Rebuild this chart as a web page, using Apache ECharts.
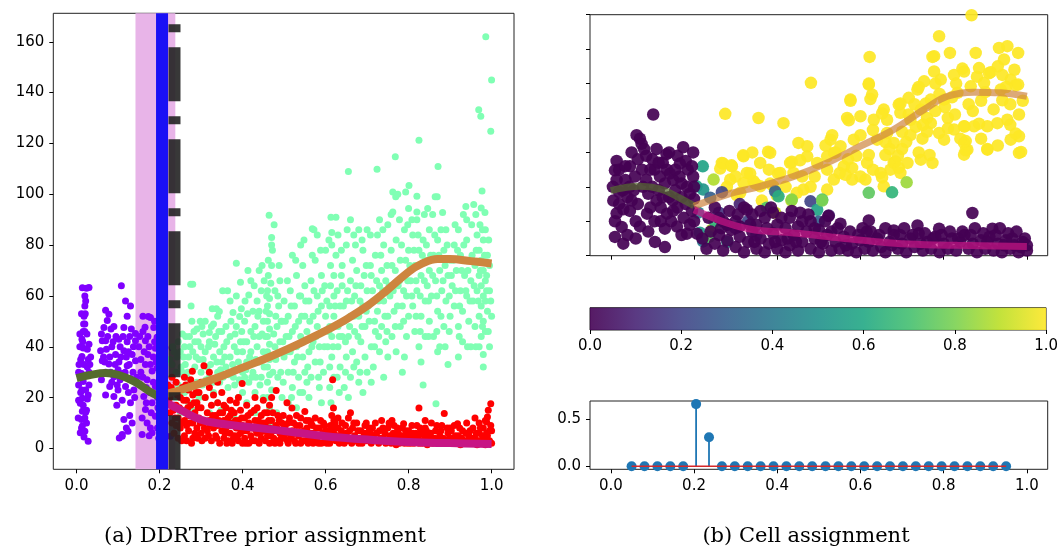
<!DOCTYPE html>
<html>
<head>
<meta charset="utf-8">
<script src="https://cdn.jsdelivr.net/npm/echarts@6/dist/echarts.min.js"></script>
<style>html,body{margin:0;padding:0;background:#fff}#c{width:1061px;height:550px}</style>
</head>
<body>
<div id="c"></div>
<script>
// ---------- DATA ----------
const xTicks = [0, 0.2, 0.4, 0.6, 0.8, 1.0];
const yTicksA = [0, 20, 40, 60, 80, 100, 120, 140, 160];
const yTicksB = [0, 20, 40, 60, 80, 100, 120, 140];
const yTicksStem = [0, 0.5];
const cbTicks = [0, 0.2, 0.4, 0.6, 0.8, 1.0];
const captionA = '(a) DDRTree prior assignment';
const captionB = '(b) Cell assignment';

// panel (a): prior assignment band and branch lines (x positions)
const priorBand = [0.142, 0.238];
const blueLineX = 0.206;
const dashLineX = 0.236;

// panel (a) scatter, flat x,y pairs
const purplePts = [
0.030,63.3, 0.024,63, 0.014,63.2, 0.020,60, 0.020,56, 0.018,52, 0.020,49, 0.020,46, 0.013,43, 0.016,39.5, 0.013,36.2, 0.018,33, 0.012,29.5, 0.016,26.3, 0.013,23, 0.014,19.8, 0.009,17.8, 0.014,14.6, 0.012,11.4, 0.014,8.8, 0.009,6.2, 0.020,6.8, 0.028,2.8, 0.026,39, 0.030,41, 0.034,36, 0.026,32, 0.022,23, 0.026,19.5, 0.022,14.2, 0.018,28.3, 0.005,25, 0.006,33, 0.008,40, 0.004,12, 0.024,10, 0.030,25, 0.030,30, 0.016,46, 0.012,53, 0.005,19,
0.108,64, 0.070,54.4, 0.078,52.8, 0.066,47.6, 0.074,50.3, 0.130,56, 0.122,52, 0.114,47.6, 0.142,45.2, 0.062,42.4, 0.070,42.4, 0.102,43, 0.122,42, 0.142,42.4, 0.058,38.4, 0.072,39, 0.094,37, 0.114,38.4, 0.134,37, 0.062,34.5, 0.078,33.2, 0.102,34, 0.122,32.5, 0.142,34.5, 0.070,30, 0.090,28.2, 0.110,29.5, 0.130,27.5, 0.080,24.4, 0.100,23, 0.118,24.4, 0.138,23, 0.070,21, 0.090,20.4, 0.110,19, 0.130,18, 0.114,11.4, 0.134,10, 0.124,6.8, 0.110,4.8, 0.103,4.1, 0.110,5.5, 0.085,40, 0.095,44, 0.105,40, 0.125,38, 0.080,36, 0.100,31, 0.120,36, 0.136,30, 0.085,26, 0.125,22, 0.105,27, 0.145,28, 0.090,48, 0.118,58, 0.128,44, 0.060,27,
0.166,42.4, 0.186,47.6, 0.178,51.5, 0.173,51.9, 0.165,47.7, 0.172,37, 0.190,39.4, 0.166,33, 0.182,30.5, 0.170,27, 0.190,24.4, 0.162,20.4, 0.182,18, 0.166,15.3, 0.190,12.7, 0.170,10, 0.182,6.2, 0.194,31.7, 0.194,43.8, 0.230,39.6, 0.226,4.8, 0.155,35, 0.160,28, 0.176,22, 0.195,20, 0.158,12, 0.175,40, 0.185,36, 0.200,27, 0.200,15, 0.175,5, 0.195,8, 0.152,44, 0.158,5.5, 0.198,36,
0.005,30, 0.010,22, 0.010,35, 0.015,42, 0.017,49, 0.021,53, 0.025,45, 0.028,35, 0.032,33, 0.016,17, 0.020,12, 0.012,8, 0.018,4.5, 0.024,15, 0.028,21, 0.022,58, 0.008,45,
0.060,45, 0.065,36, 0.075,44, 0.082,30, 0.088,42, 0.093,33, 0.098,25, 0.107,36, 0.112,44, 0.117,30, 0.127,33, 0.132,47, 0.137,40, 0.140,20, 0.128,13, 0.120,8, 0.097,17, 0.083,47, 0.068,34,
0.150,40, 0.155,30, 0.160,46, 0.163,38, 0.168,24, 0.172,44, 0.178,33, 0.180,14, 0.185,26, 0.188,42, 0.192,34, 0.196,16, 0.200,10, 0.198,4, 0.168,18, 0.178,8, 0.188,50, 0.160,52
];
const greenPts = [
0.225,35, 0.230,28, 0.235,38, 0.240,30, 0.245,25, 0.230,33, 0.250,38, 0.245,42, 0.240,20, 0.250,14,
0.255,45, 0.260,40, 0.262,33, 0.265,28, 0.270,36, 0.272,44, 0.275,64.6, 0.280,64.6, 0.278,50, 0.280,38, 0.285,32, 0.285,42, 0.290,26, 0.290,47, 0.295,35, 0.300,40, 0.300,30, 0.260,22, 0.270,18, 0.280,15, 0.295,20, 0.255,30, 0.268,25,
0.232,40, 0.242,36, 0.252,32, 0.258,36, 0.263,44, 0.268,30, 0.273,40, 0.283,46, 0.288,36, 0.293,42, 0.298,50, 0.276,56,
0.305,45, 0.310,50, 0.310,38, 0.315,32, 0.320,42, 0.320,28, 0.325,48, 0.330,36, 0.330,22, 0.335,44, 0.340,30, 0.340,52, 0.345,38, 0.345,26, 0.350,46, 0.350,34, 0.310,20, 0.320,14, 0.340,18, 0.352,62, 0.337,55, 0.348,15, 0.303,25, 0.344,53.9, 0.330,49, 0.320,45.6,
0.305,35, 0.312,27, 0.318,40, 0.323,33, 0.328,26, 0.333,41, 0.338,34, 0.343,46, 0.347,31, 0.353,28, 0.357,36, 0.362,42, 0.367,29, 0.372,50, 0.376,33, 0.382,45, 0.387,38, 0.392,27, 0.397,55, 0.302,48, 0.327,55, 0.364,62, 0.381,25, 0.360,10, 0.330,12,
0.355,40, 0.360,48, 0.360,32, 0.365,24, 0.370,44, 0.370,36, 0.377,53.5, 0.378,28, 0.380,40, 0.385,72.9, 0.385,48, 0.390,34, 0.390,20, 0.393,51.9, 0.395,65.4, 0.395,42, 0.400,30, 0.400,38, 0.360,16, 0.380,12, 0.400,22, 0.370,58, 0.385,60, 0.398,46,
0.405,50, 0.410,34, 0.410,42, 0.415,60.4, 0.415,26, 0.420,46, 0.420,38, 0.425,54, 0.425,30, 0.430,48, 0.430,22, 0.435,40, 0.435,58, 0.440,34, 0.440,44, 0.445,62, 0.445,28, 0.450,50, 0.450,38, 0.410,18, 0.430,14, 0.450,20, 0.440,70, 0.420,66, 0.405,28,
0.403,42, 0.408,31, 0.412,53, 0.417,36, 0.422,28, 0.427,44, 0.432,35, 0.437,52, 0.442,25, 0.447,45, 0.452,32, 0.457,54, 0.447,72, 0.428,64, 0.413,70, 0.478,40, 0.483,48, 0.487,56, 0.492,30, 0.497,42, 0.478,62, 0.488,72, 0.498,26, 0.452,66, 0.406,58, 0.432,28, 0.440,54, 0.473,30, 0.493,50, 0.467,10,
0.455,44, 0.460,20, 0.460,26, 0.460,32, 0.460,38, 0.460,44, 0.460,50, 0.460,56, 0.460,62, 0.462,68, 0.462,74, 0.464,91.7, 0.465,16, 0.465,29, 0.465,35, 0.465,41, 0.465,47, 0.465,53, 0.465,59, 0.468,65, 0.470,83, 0.470,80, 0.472,78, 0.470,72, 0.470,23, 0.475,45, 0.480,35, 0.480,52, 0.485,28, 0.485,60, 0.490,42, 0.490,66, 0.495,20, 0.495,50, 0.500,36, 0.500,58, 0.482,14, 0.490,12, 0.476,88, 0.458,60,
0.505,44, 0.510,30, 0.510,52, 0.515,38, 0.515,62, 0.520,24, 0.520,46, 0.525,34, 0.525,56, 0.530,40, 0.530,68, 0.535,28, 0.535,50, 0.540,44, 0.540,60, 0.545,36, 0.545,72, 0.550,52, 0.550,30, 0.550,64, 0.510,18, 0.530,16, 0.545,22, 0.520,76, 0.540,80,
0.503,50, 0.507,38, 0.512,44, 0.517,56, 0.522,30, 0.527,48, 0.532,36, 0.537,60, 0.542,52, 0.547,42, 0.552,58, 0.557,32, 0.562,50, 0.567,40, 0.572,62, 0.577,44, 0.582,54, 0.587,34, 0.592,62, 0.597,40, 0.508,66, 0.528,74, 0.548,82, 0.568,76, 0.588,78, 0.598,64, 0.518,20, 0.555,26, 0.583,28, 0.538,22,
0.555,46, 0.560,38, 0.560,58, 0.565,28, 0.565,66, 0.568,86.4, 0.570,42, 0.570,52, 0.575,34, 0.575,74, 0.580,48, 0.580,60, 0.580,84, 0.585,24, 0.585,40, 0.590,56, 0.590,68, 0.595,30, 0.595,46, 0.600,52, 0.600,78, 0.560,20, 0.590,18, 0.572,86,
0.605,40, 0.610,24, 0.610,32, 0.610,48, 0.610,56, 0.612,64, 0.612,72, 0.613,91, 0.615,80, 0.615,85, 0.615,36, 0.615,44, 0.620,28, 0.620,52, 0.620,60, 0.620,68, 0.625,91, 0.625,76, 0.630,40, 0.630,48, 0.635,56, 0.635,32, 0.640,44, 0.640,64, 0.640,72, 0.645,24, 0.645,50, 0.650,36, 0.650,58, 0.650,80, 0.652,86, 0.655,109, 0.655,20, 0.655,44, 0.660,28, 0.660,52, 0.660,66, 0.660,90, 0.665,38, 0.665,74, 0.630,84,
0.603,58, 0.608,46, 0.618,40, 0.623,56, 0.628,62, 0.633,44, 0.638,68, 0.643,56, 0.648,42, 0.653,62, 0.658,48, 0.663,58, 0.668,52, 0.673,64, 0.678,44, 0.683,58, 0.688,48, 0.693,68, 0.698,54, 0.608,82, 0.638,78, 0.668,84, 0.688,82, 0.698,72, 0.628,28, 0.668,32, 0.648,30, 0.613,18, 0.633,22, 0.683,30,
0.670,46, 0.670,60, 0.675,34, 0.675,70, 0.680,52, 0.680,26, 0.685,42, 0.685,64, 0.690,56, 0.690,78, 0.695,36, 0.695,48, 0.700,62, 0.700,30, 0.700,86, 0.680,86, 0.690,22, 0.672,80,
0.705,50, 0.710,40, 0.710,68, 0.715,58, 0.715,32, 0.724,109.8, 0.720,46, 0.720,76, 0.725,54, 0.725,84, 0.730,38, 0.730,64, 0.735,48, 0.735,70, 0.740,28, 0.740,58, 0.740,80, 0.745,42, 0.745,66, 0.750,52, 0.750,88, 0.750,36, 0.710,26, 0.730,90,
0.703,56, 0.708,72, 0.713,62, 0.718,50, 0.723,66, 0.728,58, 0.733,76, 0.738,62, 0.743,52, 0.748,72, 0.753,64, 0.758,78, 0.763,62, 0.768,70, 0.773,56, 0.778,66, 0.783,80, 0.788,62, 0.793,74, 0.798,66, 0.708,84, 0.728,44, 0.748,46, 0.768,48, 0.788,50, 0.778,90, 0.758,92, 0.738,86, 0.718,40, 0.798,88,
0.755,60, 0.760,44, 0.760,72, 0.762,100.9, 0.768,114.8, 0.765,54, 0.770,82, 0.770,38, 0.775,64, 0.774,100, 0.780,48, 0.769,99, 0.780,74, 0.785,56, 0.785,30, 0.790,68, 0.790,86, 0.795,44, 0.795,60, 0.800,78, 0.801,103.5, 0.800,52, 0.800,94.4, 0.790,36, 0.793,100.9, 0.762,93,
0.805,66, 0.810,56, 0.810,84, 0.815,46, 0.815,72, 0.825,121.3, 0.820,99.2, 0.820,62, 0.820,90, 0.825,40, 0.825,78, 0.830,52, 0.830,68, 0.835,82, 0.835,25, 0.840,58, 0.840,44, 0.840,74, 0.846,94.4, 0.845,64, 0.850,50, 0.850,86, 0.850,70, 0.830,34, 0.820,93,
0.803,72, 0.808,60, 0.813,78, 0.818,66, 0.823,84, 0.828,60, 0.833,76, 0.838,66, 0.843,80, 0.848,58, 0.853,76, 0.858,68, 0.863,84, 0.868,60, 0.873,76, 0.878,86, 0.883,66, 0.888,72, 0.893,80, 0.898,60, 0.808,90, 0.838,92, 0.858,92, 0.878,52, 0.898,46, 0.818,52, 0.848,44, 0.868,46, 0.888,40, 0.828,46,
0.855,60, 0.860,76, 0.860,44, 0.864,99, 0.869,99, 0.865,66, 0.871,110.9, 0.870,54, 0.870,82, 0.875,40, 0.875,70, 0.882,92.8, 0.880,62, 0.885,48, 0.885,78, 0.890,58, 0.890,86, 0.895,68, 0.895,33, 0.900,74, 0.900,52, 0.866,17.6, 0.870,38,
0.905,64, 0.910,80, 0.910,56, 0.915,70, 0.920,48, 0.920,86, 0.925,62, 0.925,76, 0.930,54, 0.930,42, 0.935,68, 0.938,95.2, 0.940,60, 0.940,82, 0.945,50, 0.945,74, 0.950,66, 0.957,96, 0.950,40, 0.920,36, 0.940,90,
0.903,68, 0.908,74, 0.913,62, 0.918,78, 0.923,56, 0.928,70, 0.933,80, 0.938,62, 0.943,70, 0.948,58, 0.953,76, 0.958,64, 0.963,78, 0.968,58, 0.973,70, 0.978,48, 0.983,76, 0.988,62, 0.993,82, 0.998,58, 0.912,88, 0.932,92, 0.952,88, 0.962,92, 0.922,44, 0.942,40, 0.962,40, 0.992,46, 0.978,86, 0.988,68,
0.955,58, 0.960,72, 0.960,48, 0.965,84, 0.965,62, 0.969,133.3, 0.974,130.7, 0.970,40, 0.970,52, 0.970,68, 0.970,78, 0.972,88, 0.975,44, 0.975,56, 0.975,64, 0.975,74, 0.977,101.3, 0.975,94.6, 0.980,37, 0.980,50, 0.980,60, 0.980,70, 0.980,82, 0.986,162, 0.985,86, 0.985,46, 0.985,58, 0.985,66, 0.998,124.8, 0.990,76, 0.984,92.8, 0.990,54, 0.995,40, 0.995,62, 0.995,72, 1.000,145, 1.000,52, 0.980,32
];
const redPts = [
0.220,25, 0.225,20, 0.225,14, 0.230,28, 0.230,10, 0.235,22, 0.235,6, 0.240,17, 0.240,26, 0.245,12, 0.245,4, 0.250,20, 0.250,8, 0.255,24, 0.255,15, 0.260,28, 0.260,11, 0.260,5, 0.265,19, 0.265,3, 0.270,23, 0.270,13, 0.270,7, 0.275,27, 0.275,17, 0.280,10, 0.280,21, 0.280,4, 0.285,14, 0.285,25, 0.290,8, 0.290,18, 0.279,30.4, 0.295,12, 0.295,22, 0.300,6, 0.300,16, 0.307,32.5, 0.300,26, 0.240,9, 0.265,9, 0.285,6,
0.222,18, 0.228,24, 0.233,15, 0.238,12, 0.243,21, 0.248,16, 0.253,10, 0.258,19, 0.263,25, 0.268,16, 0.272,10, 0.278,13, 0.283,18, 0.288,22, 0.293,16, 0.298,10, 0.253,3, 0.277,2, 0.292,4,
0.305,10, 0.310,4, 0.310,20, 0.315,14, 0.315,7, 0.320,24, 0.320,11, 0.325,3, 0.325,17, 0.330,8, 0.330,21, 0.335,13, 0.335,5, 0.340,18, 0.340,9, 0.345,2, 0.345,14, 0.350,7, 0.350,22, 0.355,11, 0.355,4, 0.360,16, 0.360,8, 0.365,12, 0.365,3, 0.370,19, 0.370,6, 0.375,10, 0.375,2, 0.380,14, 0.380,5, 0.385,8, 0.385,18, 0.390,3, 0.390,11, 0.395,6, 0.395,15, 0.399,25.6, 0.400,9, 0.400,2, 0.370,13, 0.340,26, 0.320,30, 0.355,17, 0.390,20,
0.302,3, 0.308,8, 0.318,5, 0.322,9, 0.328,13, 0.338,4, 0.343,11, 0.352,14, 0.358,6, 0.362,2, 0.368,9, 0.373,15, 0.378,4, 0.383,11, 0.388,5, 0.393,8, 0.398,12,
0.405,12, 0.405,4, 0.410,7, 0.410,17, 0.415,2, 0.415,10, 0.420,5, 0.420,14, 0.425,8, 0.430,3, 0.430,11, 0.435,6, 0.435,16, 0.440,2, 0.440,9, 0.445,4, 0.445,13, 0.450,7, 0.450,19, 0.455,3, 0.455,10, 0.460,5, 0.460,14, 0.465,8, 0.465,2, 0.470,11, 0.470,20, 0.475,4, 0.475,7, 0.481,22.8, 0.480,9, 0.485,3, 0.485,13, 0.490,6, 0.490,2, 0.495,10, 0.500,4, 0.500,8, 0.465,17, 0.430,20,
0.403,7, 0.408,2, 0.413,13, 0.418,8, 0.423,3, 0.428,15, 0.433,7, 0.438,11, 0.443,6, 0.448,10, 0.453,14, 0.458,7, 0.463,11, 0.468,5, 0.473,14, 0.478,2, 0.483,8, 0.488,11, 0.493,4, 0.498,13,
0.507,18, 0.505,6, 0.510,2, 0.510,10, 0.515,4, 0.519,15.9, 0.520,7, 0.525,3, 0.530,9, 0.535,5, 0.540,2, 0.540,12, 0.545,6, 0.550,14.5, 0.550,3, 0.555,8, 0.560,4, 0.565,10, 0.570,2, 0.570,6, 0.575,12, 0.580,4, 0.585,8, 0.590,2, 0.590,5, 0.595,10, 0.600,3, 0.600,7, 0.530,13, 0.560,11,
0.503,9, 0.508,3, 0.513,12, 0.518,5, 0.523,10, 0.528,2, 0.533,6, 0.538,9, 0.543,3, 0.548,7, 0.553,11, 0.558,2, 0.563,6, 0.568,9, 0.573,4, 0.578,8, 0.583,2, 0.588,11, 0.593,6, 0.598,9,
0.605,5, 0.610,2, 0.612,9, 0.615,13, 0.617,27, 0.619,15.9, 0.620,6, 0.620,11, 0.625,3, 0.630,8, 0.635,4, 0.640,10, 0.645,2, 0.650,6, 0.655,12, 0.660,3, 0.665,8, 0.670,5, 0.675,10, 0.680,2, 0.685,7, 0.690,4, 0.695,9, 0.700,3, 0.700,6, 0.660,14, 0.630,12,
0.603,2, 0.608,7, 0.614,4, 0.618,8, 0.623,10, 0.628,5, 0.633,2, 0.638,7, 0.643,5, 0.648,9, 0.653,3, 0.658,7, 0.663,2, 0.668,10, 0.673,3, 0.678,7, 0.683,4, 0.688,2, 0.693,6, 0.698,10,
0.705,8, 0.710,2, 0.715,5, 0.720,10, 0.725,3, 0.730,7, 0.735,11, 0.740,4, 0.745,2, 0.750,8, 0.755,5, 0.760,3, 0.765,9, 0.770,1.5, 0.775,6, 0.780,4, 0.785,8, 0.788,9.7, 0.790,2, 0.795,5, 0.800,3, 0.800,7, 0.760,11,
0.703,4, 0.708,6, 0.713,8, 0.718,3, 0.723,6, 0.728,2, 0.733,4, 0.738,8, 0.743,6, 0.748,3, 0.753,10, 0.758,2, 0.763,6, 0.768,4, 0.773,8, 0.778,2, 0.783,5, 0.788,3, 0.793,7, 0.798,2,
0.805,2, 0.810,6, 0.815,4, 0.820,9, 0.825,15.9, 0.825,2, 0.830,6, 0.835,3, 0.840,8, 0.845,1.5, 0.850,5, 0.855,10, 0.860,3, 0.865,7, 0.870,2, 0.875,5, 0.880,9, 0.886,13.8, 0.890,3, 0.895,6, 0.900,2, 0.900,8, 0.840,11,
0.803,5, 0.808,9, 0.813,2, 0.818,6, 0.823,4, 0.828,8, 0.833,2, 0.838,5, 0.843,7, 0.848,3, 0.853,6, 0.858,2, 0.863,4, 0.868,9, 0.873,3, 0.878,7, 0.883,4, 0.888,2, 0.893,8, 0.898,4,
0.905,4, 0.910,9, 0.915,2, 0.918,9.7, 0.920,5, 0.925,1.5, 0.930,7, 0.935,3, 0.940,10, 0.945,5, 0.950,2, 0.955,8, 0.960,4, 0.965,1.5, 0.970,10, 0.970,6, 0.975,3, 0.980,8, 0.985,1.5, 0.988,10.4, 0.990,12.4, 0.990,5, 0.995,3, 0.998,17.6, 1.000,7, 1.000,2, 0.960,12,
0.903,7, 0.908,2, 0.913,5, 0.918,3, 0.923,8, 0.928,4, 0.933,2, 0.938,6, 0.943,3, 0.948,7, 0.953,4, 0.958,2, 0.963,6, 0.968,3, 0.973,8, 0.978,5, 0.983,3, 0.988,6, 0.993,2, 0.998,9, 0.992,15, 0.985,11, 0.995,7
];
// panel (a) curves
const oliveA = [[0,27.7],[0.03,28.8],[0.07,29.7],[0.1,29],[0.14,26.3],[0.18,22],[0.206,20]];
const orangeA = [[0.206,21],[0.25,23],[0.3,25.6],[0.35,28.5],[0.4,31.8],[0.45,35],[0.5,38.5],[0.55,42.3],[0.6,46.3],[0.65,50.8],[0.7,56],[0.75,62.5],[0.8,69.5],[0.83,72.5],[0.87,74.5],[0.9,74.5],[0.95,73.7],[1.0,72.8]];
const magentaA = [[0.206,18.7],[0.25,15.2],[0.3,11.3],[0.35,9.7],[0.4,8.7],[0.5,6.9],[0.6,4.8],[0.7,3.5],[0.8,2.5],[0.9,2.1],[1.0,1.8]];

// panel (b) scatter: x, y (assignment value given per group)
const yellowPts = [
0.867,139.7, 0.789,127.5, 0.622,115.5, 0.815,117.8, 0.877,117.8, 0.933,120.7, 0.953,121.7, 0.979,117.8, 0.945,114, 0.777,115.9, 0.777,107, 0.753,101.3, 0.793,102.3, 0.825,105, 0.849,107, 0.885,109, 0.909,106, 0.941,105, 0.961,102.3, 0.979,99.4, 0.937,96.5, 0.897,100.4, 0.865,98.4, 0.833,94.6, 0.801,90.7, 0.769,90.7, 0.737,96.5, 0.716,91.7, 0.692,87.8, 0.656,84.9, 0.628,93.6, 0.620,99.4, 0.576,90.7, 0.568,80, 0.600,81, 0.632,79, 0.664,79, 0.696,83, 0.720,79, 0.745,84.9, 0.769,77, 0.789,71.3, 0.825,73.3, 0.849,75.2, 0.873,75.2, 0.905,75.2, 0.929,77, 0.953,79, 0.981,82, 0.981,69.4, 0.981,59.7, 0.961,67.4, 0.905,61.6, 0.857,61.6, 0.849,58.7, 0.849,65.5, 0.801,67.4, 0.773,53.9, 0.745,55.8, 0.713,53.9, 0.680,53.9, 0.672,50, 0.664,71.3, 0.680,65.5, 0.640,67.4, 0.616,53.9, 0.612,44.2, 0.656,40.3, 0.648,48.1, 0.696,48.1, 0.584,67.4, 0.552,63.6, 0.536,59.7, 0.528,67.4, 0.520,57.7, 0.560,51.9, 0.580,44.2, 0.536,44.2, 0.520,38.4, 0.496,53.9, 0.472,57.7, 0.451,65.5, 0.472,63.6, 0.481,100.4, 0.439,48.1, 0.431,53.9, 0.407,48.1, 0.383,59.7, 0.359,53.9, 0.319,57.7, 0.327,48.1, 0.343,43.3, 0.391,40.3, 0.463,38.4, 0.447,36.5, 0.415,77, 0.355,80, 0.275,82.4, 0.267,53.9, 0.291,51.9, 0.287,44.2, 0.319,42.3, 0.359,40.3, 0.311,36.5,
0.378,60.4, 0.318,58.3, 0.270,53.5, 0.290,52.5, 0.402,47.7, 0.435,54.6, 0.455,55.4, 0.335,47.7, 0.347,41.9, 0.263,50.6, 0.383,41.9, 0.480,40, 0.399,35, 0.363,32, 0.303,35, 0.279,40,
0.620,100, 0.624,91, 0.576,90, 0.572,78.7, 0.652,82.6, 0.696,88.4, 0.716,82, 0.757,88.4, 0.740,98, 0.780,100, 0.773,115.5, 0.845,108.7, 0.913,106.6, 0.973,99, 0.941,90.3, 0.973,71, 0.986,60.3, 0.905,62, 0.853,61.2, 0.853,66.6, 0.885,76.7, 0.850,75, 0.827,82, 0.803,86.4, 0.820,92, 0.733,74.8, 0.749,68, 0.766,58.5, 0.740,60, 0.700,62, 0.684,54.7, 0.660,58.5, 0.620,58.5, 0.540,60, 0.564,47, 0.580,51, 0.652,45.5, 0.692,51, 0.532,70, 0.516,64, 0.600,70, 0.700,72, 0.760,80, 0.920,85, 0.960,88, 0.890,90,
0.590,58, 0.630,73, 0.670,62, 0.710,66, 0.730,88, 0.760,72, 0.790,94, 0.810,80, 0.830,100, 0.860,88, 0.880,104, 0.900,95, 0.930,110, 0.950,98, 0.970,108, 0.990,90, 0.960,76, 0.930,64, 0.890,68, 0.870,84, 0.840,68, 0.810,74, 0.780,84, 0.750,76, 0.720,70, 0.690,58, 0.660,66, 0.630,50, 0.600,46, 0.570,56, 0.550,48, 0.520,50, 0.490,46, 0.460,46, 0.420,40, 0.380,50, 0.340,60, 0.300,46
];
const mixedPts = [
0.221,51.9,0.58, 0.206,40.3,0.58, 0.222,38.4,0.52, 0.267,36.9,0.2, 0.239,33.7,0.3, 0.210,25,0.45, 0.214,13.4,0.55, 0.222,8.3,0.42, 0.243,15.1,0.88, 0.236,11,0.75, 0.247,44.2,0.88, 0.434,32,0.9, 0.435,32.6,0.82, 0.508,32.6,0.72, 0.375,27.9,0.72, 0.395,25,0.92, 0.395,37.4,0.3, 0.403,34.5,0.62, 0.480,31.6,0.2, 0.496,26.7,0.58, 0.500,19.9,0.3, 0.620,36.5,0.75, 0.676,36.8,0.65, 0.711,42.6,0.85, 0.524,23.4,0.1, 0.508,32,0.8, 0.260,25,0.15, 0.300,16,0.1, 0.330,20,0.2, 0.350,12,0.15, 0.280,8,0.6, 0.310,30,0.1, 0.250,20,0.65
];
const darkPts = [
0.102,82, 0.062,70, 0.070,68, 0.074,65, 0.014,55, 0.010,49.6, 0.014,44, 0.006,32, 0.014,24.6, 0.026,16.7, 0.010,10.9, 0.030,7, 0.106,8, 0.130,15.7, 0.134,59, 0.100,56, 0.174,63, 0.198,60, 0.166,53.5, 0.046,52, 0.058,46, 0.118,46, 0.142,47.7, 0.077,40, 0.110,32, 0.135,24.4, 0.159,16.9, 0.183,12.8, 0.207,12.8, 0.149,32, 0.183,40, 0.198,46, 0.029,38, 0.046,26, 0.087,24.4, 0.070,17,
0.005,40, 0.020,30, 0.035,44, 0.040,34, 0.055,38, 0.065,30, 0.075,50, 0.085,44, 0.090,36, 0.095,28, 0.100,40, 0.105,50, 0.115,38, 0.120,28, 0.125,54, 0.130,42, 0.140,34, 0.145,20, 0.150,44, 0.155,38, 0.160,28, 0.165,46, 0.170,34, 0.175,22, 0.180,30, 0.185,50, 0.190,36, 0.195,26, 0.200,40, 0.170,12, 0.120,20, 0.060,20, 0.040,12, 0.090,14, 0.200,20, 0.160,58, 0.110,62, 0.085,58, 0.050,60, 0.200,33,
0.010,20, 0.020,50, 0.030,27, 0.045,40, 0.050,32, 0.065,56, 0.080,62, 0.095,50, 0.105,20, 0.115,54, 0.125,34, 0.135,50, 0.140,60, 0.150,26, 0.155,50, 0.170,42, 0.180,55, 0.190,18, 0.195,52, 0.130,5, 0.060,10, 0.020,37, 0.035,52,
0.220,10, 0.230,4, 0.240,14, 0.250,7, 0.260,12, 0.270,3, 0.280,9, 0.290,15, 0.300,5, 0.310,11, 0.320,2, 0.330,8, 0.340,14, 0.350,4, 0.360,10, 0.370,2, 0.380,7, 0.390,13, 0.400,4, 0.410,9, 0.420,2, 0.430,6, 0.440,12, 0.450,3, 0.460,8, 0.470,14, 0.480,4, 0.490,10, 0.500,2, 0.510,7, 0.520,12, 0.530,3, 0.540,8, 0.550,4, 0.560,11, 0.570,3, 0.580,7, 0.590,2, 0.600,9, 0.610,4, 0.615,14, 0.620,8, 0.630,3, 0.640,10, 0.650,5, 0.660,2, 0.670,8, 0.680,12, 0.690,4, 0.700,7, 0.710,2, 0.720,10, 0.730,5, 0.740,13, 0.750,3, 0.760,8, 0.770,4, 0.780,11, 0.790,2, 0.800,7, 0.810,4, 0.820,10, 0.830,3, 0.840,8, 0.850,12, 0.860,4, 0.870,7, 0.880,2, 0.890,9, 0.900,4, 0.910,11, 0.920,3, 0.930,7, 0.940,2, 0.950,9, 0.960,4, 0.970,6, 0.980,2, 0.990,8, 1.000,3, 1.000,6, 0.995,10,
0.327,26.7, 0.390,25, 0.455,25, 0.523,23, 0.620,20.5, 0.869,24.8, 0.737,17.6, 0.789,15.7, 0.917,15.7, 0.552,18.6, 0.680,14.7, 0.300,20, 0.350,18, 0.420,16, 0.260,22, 0.280,18, 0.370,22, 0.400,18, 0.450,17, 0.500,15, 0.265,16, 0.310,17, 0.340,24, 0.430,22, 0.480,20,
0.235,22, 0.250,28, 0.270,20, 0.285,26, 0.305,24, 0.320,28, 0.335,18, 0.345,8, 0.360,26, 0.375,16, 0.385,28, 0.395,8, 0.410,22, 0.425,10, 0.435,26, 0.445,8, 0.460,20, 0.475,24, 0.490,16, 0.505,8, 0.515,20, 0.530,14, 0.545,16, 0.565,6, 0.575,14, 0.595,12, 0.605,16, 0.625,14, 0.645,12, 0.660,16, 0.675,6, 0.695,12, 0.705,16, 0.725,12, 0.745,7, 0.755,13, 0.775,10, 0.795,12, 0.815,14, 0.835,10, 0.845,14, 0.865,12, 0.875,16, 0.895,13, 0.905,8, 0.925,12, 0.935,16, 0.945,6, 0.955,13, 0.965,10, 0.975,14, 0.985,5
];
// panel (b) curves
const oliveB = [[0,37.8],[0.07,40.3],[0.118,38.8],[0.158,34.5],[0.2,29]];
const orangeB = [[0.2,28.7],[0.279,35.5],[0.359,40.3],[0.44,46.1],[0.52,53.9],[0.6,63.6],[0.68,73.3],[0.753,84.9],[0.809,92.6],[0.873,95],[0.937,94.6],[1.0,92.6]];
const magentaB = [[0.2,26.7],[0.279,19],[0.343,15.1],[0.44,13.2],[0.552,10.3],[0.632,8.3],[0.713,6.8],[0.833,6],[1.0,5.4]];

// stem plot
const stemX = [0.050,0.081,0.112,0.143,0.174,0.205,0.236,0.267,0.298,0.329,0.360,0.391,0.422,0.453,0.484,0.516,0.547,0.578,0.609,0.640,0.671,0.702,0.733,0.764,0.795,0.826,0.857,0.888,0.919,0.950];
const stemY = [0,0,0,0,0,0.656,0.305,0,0,0,0,0,0,0,0,0,0,0,0,0,0,0,0,0,0,0,0,0,0,0];

// ---------- BUILD ----------
const viridis = ['#440154','#482475','#414487','#355f8d','#2a788e','#21918c','#22a884','#44bf70','#7ad151','#bddf26','#fde725'];
function pairs(a){const r=[];for(let i=0;i<a.length;i+=2)r.push([a[i],a[i+1]]);return r;}
function triples(a,v){const r=[];for(let i=0;i<a.length;i+=2)r.push([a[i],a[i+1],v]);return r;}
function triples3(a){const r=[];for(let i=0;i<a.length;i+=3)r.push([a[i],a[i+1],a[i+2]]);return r;}

const FONT = 'DejaVu Sans';
const FS = 15;
const yMinA = -8.2, yMaxA = 171.2;
function fmt1(v){return v.toFixed(1);}
function axisX(gi, min, max, ticks, showLabel){
  return {type:'value', gridIndex:gi, min:min, max:max, splitLine:{show:false}, axisLine:{show:false, onZero:false},
    axisTick:{show:true, customValues:ticks, length:4, lineStyle:{color:'#000', width:1}},
    axisLabel:{show:showLabel, customValues:ticks, formatter:fmt1, margin:9, color:'#000', fontFamily:FONT, fontSize:FS}};
}
function axisY(gi, min, max, ticks, showLabel, formatter){
  return {type:'value', gridIndex:gi, min:min, max:max, splitLine:{show:false}, axisLine:{show:false, onZero:false},
    axisTick:{show:true, customValues:ticks, length:4, lineStyle:{color:'#000', width:1}},
    axisLabel:{show:showLabel, customValues:ticks, formatter:formatter, margin:9, color:'#000', fontFamily:FONT, fontSize:FS}};
}
const border = {show:true, borderColor:'#222', borderWidth:1, backgroundColor:'transparent'};

const series = [];
// Panel (a)
series.push({type:'line', xAxisIndex:0, yAxisIndex:0, data:[], z:1, silent:true,
  markArea:{silent:true, itemStyle:{color:'#e8b4e8'}, data:[[{xAxis:priorBand[0]},{xAxis:priorBand[1]}]]}});
series.push({type:'scatter', xAxisIndex:0, yAxisIndex:0, data:pairs(purplePts), symbolSize:7, itemStyle:{color:'#8000ff', opacity:1}, z:2});
series.push({type:'scatter', xAxisIndex:0, yAxisIndex:0, data:pairs(greenPts), symbolSize:7, itemStyle:{color:'#80ffb4', opacity:1}, z:2});
series.push({type:'scatter', xAxisIndex:0, yAxisIndex:0, data:pairs(redPts), symbolSize:7, itemStyle:{color:'#ff0000', opacity:1}, z:2});
[[oliveA,'#556b2f'],[orangeA,'#cd853f'],[magentaA,'#c71585']].forEach(function(c){
  series.push({type:'line', xAxisIndex:0, yAxisIndex:0, data:c[0], smooth:0.4, showSymbol:false, symbol:'none', z:3,
    lineStyle:{color:c[1], width:8, cap:'butt'}});
});
series.push({type:'line', xAxisIndex:0, yAxisIndex:0, data:[[blueLineX,yMinA],[blueLineX,yMaxA]], symbol:'none', z:4,
  lineStyle:{color:'#1a10f5', width:12}});
series.push({type:'line', xAxisIndex:0, yAxisIndex:0, data:[[dashLineX,yMinA],[dashLineX,yMaxA]], symbol:'none', z:5,
  lineStyle:{color:'#222222', opacity:0.9, width:12, type:[54,15,8,15], cap:'butt'}});

// Panel (b) scatter
const rightData = triples(yellowPts,1).concat(triples3(mixedPts)).concat(triples(darkPts,0));
const rightIdx = series.length;
series.push({type:'scatter', xAxisIndex:1, yAxisIndex:1, data:rightData, symbolSize:12.5, itemStyle:{opacity:0.92}, z:2, clip:true});
[[oliveB,'#556b2f'],[orangeB,'#cd853f'],[magentaB,'#c71585']].forEach(function(c){
  series.push({type:'line', xAxisIndex:1, yAxisIndex:1, data:c[0], smooth:0.4, showSymbol:false, symbol:'none', z:3,
    lineStyle:{color:c[1], width:7, opacity:0.7}});
});
// colorbar
series.push({type:'line', xAxisIndex:2, yAxisIndex:2, data:[], silent:true,
  markArea:{silent:true, itemStyle:{opacity:0.9, color:new echarts.graphic.LinearGradient(0,0,1,0, viridis.map(function(c,i){return {offset:i/(viridis.length-1), color:c};}))},
    data:[[{coord:[0,0]},{coord:[1,1]}]]}});
// stem plot
series.push({type:'bar', xAxisIndex:3, yAxisIndex:3, data:stemX.map(function(x,i){return [x,stemY[i]];}), barWidth:1.8, itemStyle:{color:'#1f77b4'}, z:2});
series.push({type:'scatter', xAxisIndex:3, yAxisIndex:3, data:stemX.map(function(x,i){return [x,stemY[i]];}), symbolSize:10, itemStyle:{color:'#1f77b4', opacity:1}, z:3});
series.push({type:'line', xAxisIndex:3, yAxisIndex:3, data:[[stemX[0],0],[stemX[stemX.length-1],0]], symbol:'none', z:4,
  lineStyle:{color:'#d62728', width:1.6}});

const option = {
  animation:false,
  backgroundColor:'#fff',
  grid:[
    Object.assign({left:53.3, top:13.3, width:460.7, height:456}, border),
    Object.assign({left:590, top:14.7, width:457.7, height:241}, border),
    Object.assign({left:590, top:307.7, width:457.7, height:22.3}, border),
    Object.assign({left:590, top:401, width:457.7, height:68.3}, border)
  ],
  xAxis:[
    axisX(0, -0.056, 1.054, xTicks, true),
    axisX(1, -0.05, 1.05, xTicks, false),
    axisX(2, 0, 1, cbTicks, true),
    axisX(3, -0.05, 1.05, xTicks, true)
  ],
  yAxis:[
    axisY(0, yMinA, yMaxA, yTicksA, true, function(v){return String(v);}),
    axisY(1, 0, 140, yTicksB, false, function(v){return String(v);}),
    {type:'value', gridIndex:2, min:0, max:1, show:false},
    axisY(3, -0.0328, 0.689, yTicksStem, true, fmt1)
  ],
  visualMap:[{type:'continuous', show:false, min:0, max:1, dimension:2, seriesIndex:rightIdx, inRange:{color:viridis}}],
  graphic:[
    {type:'text', x:265, y:537, style:{text:captionA, align:'center', verticalAlign:'middle', fill:'#000', font:'21px "DejaVu Serif"'}},
    {type:'text', x:806, y:537, style:{text:captionB, align:'center', verticalAlign:'middle', fill:'#000', font:'21px "DejaVu Serif"'}}
  ],
  series:series
};
const chart = echarts.init(document.getElementById('c'), null, {renderer:'canvas'});
chart.setOption(option);
</script>
</body>
</html>
